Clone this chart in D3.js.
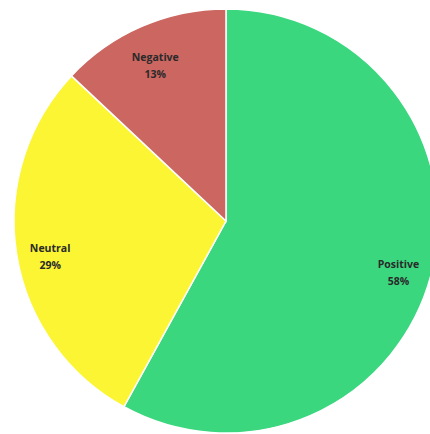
<!DOCTYPE html>
<html>
<head>
<meta charset="utf-8">
<script src="https://cdn.jsdelivr.net/npm/d3@7"></script>
<style>
html,body{margin:0;padding:0;background:#fff;overflow:hidden;}
</style>
</head>
<body>
<svg id="chart" width="430" height="434"></svg>
<script>
const categories = ["Positive", "Neutral", "Negative"];
const values = [58, 29, 13];
const colors = ["#3bd77f", "#fbf533", "#cc6661"];

const svg = d3.select("#chart");
const cx = 226, cy = 221, r = 212;
const g = svg.append("g").attr("transform", `translate(${cx},${cy})`);

const data = categories.map((c, i) => ({ name: c, value: values[i], color: colors[i] }));
const pie = d3.pie().value(d => d.value).sort(null);
const arcs = pie(data);
const arc = d3.arc().innerRadius(0).outerRadius(r);
const labelArc = d3.arc().innerRadius(r * 0.84).outerRadius(r * 0.84);

g.selectAll("path").data(arcs).enter().append("path")
  .attr("d", arc)
  .attr("fill", d => d.data.color)
  .attr("stroke", "#ffffff")
  .attr("stroke-width", 1.5);

const labels = g.selectAll("text.lbl").data(arcs).enter().append("text")
  .attr("class", "lbl")
  .attr("transform", d => `translate(${labelArc.centroid(d)})`)
  .attr("text-anchor", "middle")
  .attr("font-family", "'Open Sans', sans-serif")
  .attr("font-weight", "bold")
  .attr("font-size", 10.5)
  .attr("fill", "#2a2a2a");
labels.append("tspan").attr("x", 0).attr("dy", 3).text(d => d.data.name);
labels.append("tspan").attr("x", 0).attr("dy", 17).text(d => d.data.value + "%");
</script>
</body>
</html>
